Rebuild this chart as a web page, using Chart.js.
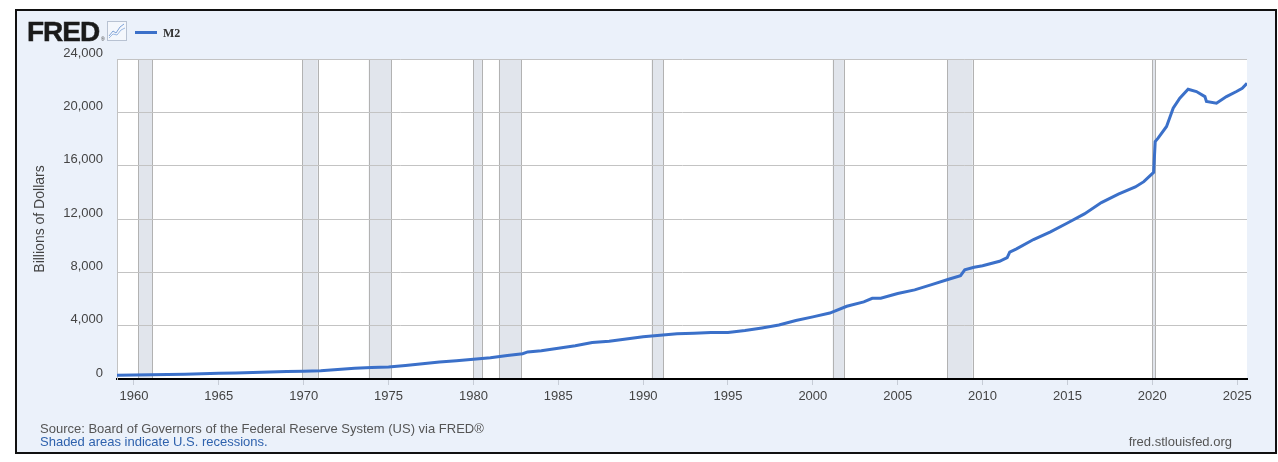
<!DOCTYPE html>
<html><head><meta charset="utf-8">
<script src="https://cdn.jsdelivr.net/npm/chart.js@4.4.1/dist/chart.umd.min.js"></script>
<style>
html,body{margin:0;padding:0;background:#fff;width:1278px;height:462px;overflow:hidden;font-family:"Liberation Sans",Arial,sans-serif;}
#panel{position:absolute;left:15px;top:9px;width:1258px;height:441px;border:2px solid #111;background:#ebf1fa;}
#c{position:absolute;left:0;top:0;}
.t{position:absolute;white-space:nowrap;}
#logo{left:27px;top:18px;font-size:28px;line-height:28px;font-weight:900;letter-spacing:-1px;color:#1a1a1a;-webkit-text-stroke:0.5px #1a1a1a;}
#reg{left:101px;top:37px;font-size:5px;line-height:5px;color:#333;}
#icon{position:absolute;left:107px;top:21px;}
#legline{position:absolute;left:135px;top:31px;width:22px;height:3px;background:#3b70c9;}
#legtxt{left:163px;top:26px;font-family:"Liberation Serif","DejaVu Serif",serif;font-weight:bold;font-size:12px;line-height:14px;color:#333;}
#src{left:40px;top:421px;font-size:13px;line-height:15px;color:#555;}
#shade{left:40px;top:434px;font-size:13px;line-height:15px;color:#2f62ad;}
#url{right:46px;top:434px;font-size:13px;line-height:15px;color:#555;}
</style></head><body>
<div id="panel"></div>
<canvas id="c" width="1278" height="462"></canvas>
<div class="t" id="logo">FRED</div>
<div class="t" id="reg">®</div>
<svg id="icon" width="20" height="20" viewBox="0 0 20 20">
  <rect x="0.5" y="0.5" width="19" height="19" fill="#f4f7fc" stroke="#b8c2d2"/>
  <polyline points="2,15 6,10 9,12 13,6 17,3" fill="none" stroke="#7ea2d8" stroke-width="1"/>
  <polyline points="2,17 6,13 10,14 14,9 18,7" fill="none" stroke="#9bb8e2" stroke-width="1"/>
</svg>
<div id="legline"></div>
<div class="t" id="legtxt">M2</div>
<div class="t" id="src">Source: Board of Governors of the Federal Reserve System (US) via FRED®</div>
<div class="t" id="shade">Shaded areas indicate U.S. recessions.</div>
<div class="t" id="url">fred.stlouisfed.org</div>
<script>
const seriesName = "M2";
const yTitle = "Billions of Dollars";
const dates = [1959.0,1960.0,1961.0,1962.0,1963.0,1964.0,1965.0,1966.0,1967.0,1968.0,1969.0,1970.0,1971.0,1972.0,1973.0,1974.0,1975.0,1976.0,1977.0,1978.0,1979.0,1980.0,1981.0,1982.0,1982.9,1983.2,1984.0,1985.0,1986.0,1987.0,1988.0,1989.0,1990.0,1991.0,1992.0,1993.0,1994.0,1995.0,1996.0,1997.0,1998.0,1999.0,2000.0,2001.0,2002.0,2003.0,2003.5,2004.0,2005.0,2006.0,2007.0,2008.0,2008.7,2008.95,2009.5,2010.0,2011.0,2011.45,2011.6,2012.0,2013.0,2014.0,2015.0,2016.0,2017.0,2018.0,2019.0,2019.5,2020.0,2020.08,2020.17,2020.34,2020.84,2021.23,2021.62,2022.11,2022.6,2023.1,2023.19,2023.78,2024.37,2024.96,2025.3,2025.58];
const m2Values = [287,299,313,336,364,393,425,453,481,525,567,588,626,711,802,858,903,1021,1152,1273,1368,1474,1601,1757,1900,2030,2127,2310,2495,2732,2832,2994,3164,3281,3385,3428,3480,3492,3636,3828,4045,4389,4658,4944,5453,5788,6050,6065,6416,6682,7078,7479,7750,8190,8380,8490,8830,9100,9520,9760,10460,11040,11700,12380,13230,13860,14400,14800,15400,15500,17800,18070,18940,20310,21060,21735,21560,21180,20810,20690,21180,21560,21800,22180];
const xTickValues = [1960,1965,1970,1975,1980,1985,1990,1995,2000,2005,2010,2015,2020,2025];
const yTickValues = [0,4000,8000,12000,16000,20000,24000];
const recessionStarts = [1960.25,1969.92,1973.83,1980.0,1981.5,1990.5,2001.17,2007.92,2020.0];
const recessionEnds   = [1961.08,1970.83,1975.17,1980.5,1982.83,1991.17,2001.83,2009.42,2020.17];
const xMin = 1959.0, xMax = 2025.58;

const bandsPlugin = {
  id: 'bands',
  beforeDraw(chart) {
    const {ctx, chartArea: a, scales: {x}} = chart;
    ctx.save();
    ctx.fillStyle = '#ffffff';
    ctx.fillRect(a.left, a.top, a.right - a.left, a.bottom - a.top);
    for (let i = 0; i < recessionStarts.length; i++) {
      const x0 = x.getPixelForValue(recessionStarts[i]);
      const x1 = x.getPixelForValue(recessionEnds[i]);
      ctx.fillStyle = '#e1e5ec';
      ctx.fillRect(x0, a.top, x1 - x0, a.bottom - a.top);
      ctx.strokeStyle = '#b2b2b2';
      ctx.lineWidth = 1;
      ctx.beginPath();
      ctx.moveTo(Math.round(x0) + 0.5, a.top); ctx.lineTo(Math.round(x0) + 0.5, a.bottom);
      ctx.moveTo(Math.round(x1) + 0.5, a.top); ctx.lineTo(Math.round(x1) + 0.5, a.bottom);
      ctx.stroke();
    }
    ctx.restore();
  }
};

const font = {family: '"Liberation Sans", Arial, sans-serif', size: 13};
new Chart(document.getElementById('c'), {
  type: 'line',
  data: {
    datasets: [{
      label: seriesName,
      data: dates.map((d, i) => ({x: d, y: m2Values[i]})),
      borderColor: '#3b70c9',
      borderWidth: 3,
      pointRadius: 0,
      tension: 0,
      fill: false
    }]
  },
  options: {
    responsive: false,
    animation: false,
    layout: {padding: {left: 0, top: 59, right: 31, bottom: 0}},
    plugins: {legend: {display: false}, tooltip: {enabled: false}},
    scales: {
      x: {
        type: 'linear', min: xMin, max: xMax,
        afterBuildTicks: s => { s.ticks = xTickValues.map(v => ({value: v})); },
        afterFit: s => { s.height = 83; },
        grid: {drawOnChartArea: false, drawTicks: true, tickLength: 6, color: '#c6ccd6'},
        border: {display: true, color: '#000', width: 2},
        ticks: {padding: 4, color: '#444', font: font, maxRotation: 0, autoSkip: false, callback: v => String(v)}
      },
      y: {
        min: 0, max: 24000,
        afterBuildTicks: s => { s.ticks = yTickValues.map(v => ({value: v})); },
        afterFit: s => { s.width = 117; },
        grid: {color: '#c3c3c3', lineWidth: 1, drawTicks: false},
        border: {display: true, color: '#c3c3c3'},
        ticks: {padding: 14, labelOffset: -6, color: '#444', font: font, callback: v => v.toLocaleString('en-US')},
        title: {display: true, text: yTitle, color: '#444', font: {family: font.family, size: 14}, padding: {top: 32, bottom: 0}}
      }
    }
  },
  plugins: [bandsPlugin]
});
</script>
</body></html>
